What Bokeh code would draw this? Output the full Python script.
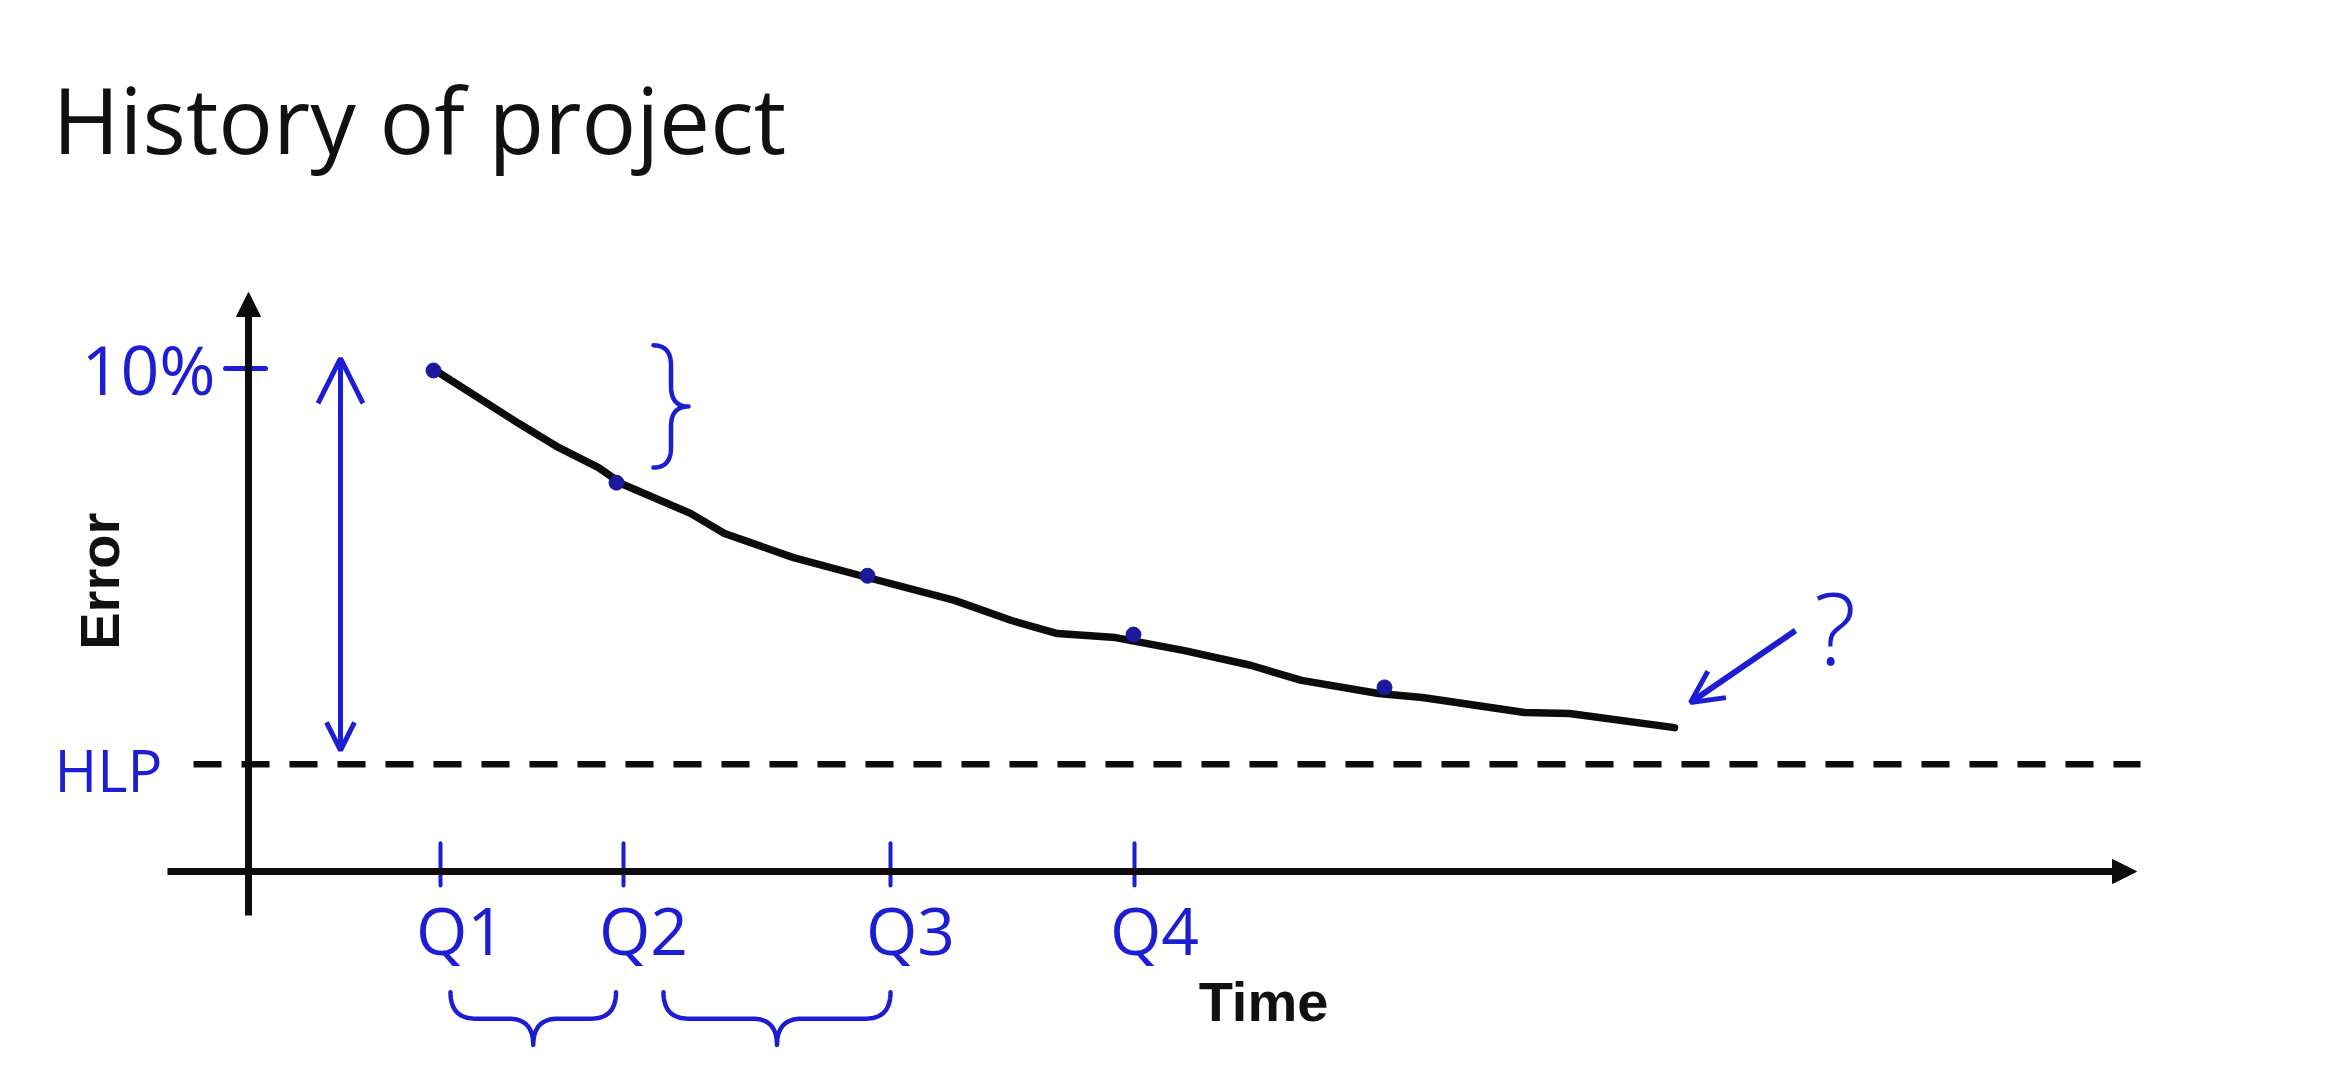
import numpy as np
from bokeh.plotting import figure
from bokeh.models import Range1d, Arrow, NormalHead, OpenHead
from bokeh.core.properties import value
from bokeh.embed import file_html
from bokeh.resources import INLINE

# ---------------- data ----------------
title_text = "History of project"
x_label = "Time"
y_label = "Error"
quarters = ["Q1", "Q2", "Q3", "Q4"]
quarter_time = [3.84, 7.50, 12.84, 17.72]
checkpoint_time = [3.70, 7.36, 12.38, 17.70, 22.72]
checkpoint_error = [9.96, 7.73, 5.88, 4.71, 3.66]
curve_time = [3.74, 5.40, 6.20, 7.00, 7.46, 8.84, 9.52, 10.90, 12.40, 14.12,
              15.26, 16.18, 17.34, 18.72, 20.04, 21.06, 22.60, 23.48, 25.52,
              26.42, 28.52]
curve_error = [9.96, 8.91, 8.43, 8.03, 7.71, 7.12, 6.72, 6.24, 5.84, 5.39,
               4.99, 4.73, 4.65, 4.39, 4.10, 3.80, 3.54, 3.46, 3.16, 3.14,
               2.86]
top_error = 10.0
top_label = "10%"
hlp_error = 2.13
hlp_label = "HLP"
question = "?"

# ---------------- layout ----------------
W, H = 2310, 1069
ORIGIN_X, ORIGIN_Y = 248, 871      # canvas px where the axes cross
PX_X, PX_Y = 50.0, 50.3            # px per data unit
BLUE = "#1d1dd4"
DOT = "#1a1a9a"
INK = "#0c0c0c"

p = figure(width=W, height=H, output_backend="svg", toolbar_location=None,
           x_range=Range1d(-ORIGIN_X / PX_X, (W - ORIGIN_X) / PX_X),
           y_range=Range1d(-(H - ORIGIN_Y) / PX_Y, ORIGIN_Y / PX_Y),
           x_axis_type=None, y_axis_type=None, min_border=0)
p.grid.visible = False
p.outline_line_color = None
p.background_fill_color = "white"
p.border_fill_color = "white"

# axes drawn as arrows
X_AX = (-1.62, 37.76)
Y_AX = (-0.875, 11.51)
p.add_layout(Arrow(x_start=X_AX[0], y_start=0, x_end=X_AX[1], y_end=0,
                   line_width=7, line_color=INK,
                   end=NormalHead(size=24, fill_color=INK, line_color=INK, line_width=1)))
p.add_layout(Arrow(x_start=0, y_start=Y_AX[0], x_end=0, y_end=Y_AX[1],
                   line_width=7, line_color=INK,
                   end=NormalHead(size=24, fill_color=INK, line_color=INK, line_width=1)))

# human-level performance dashed line
p.line(x=[-1.1, 37.84], y=[hlp_error, hlp_error], line_width=6.5, line_color=INK,
       line_dash="28 20")

# learning curve
p.line(x=curve_time, y=curve_error, line_width=7.5, line_color=INK,
       line_join="round", line_cap="round")
p.scatter(x=checkpoint_time, y=checkpoint_error, size=15, color=DOT)

# quarter ticks and the 10% tick (blue pen)
p.segment(x0=quarter_time, y0=[-0.28] * 4, x1=quarter_time, y1=[0.56] * 4,
          line_width=4, line_color=BLUE, line_cap="round")
p.segment(x0=[-0.46], y0=[top_error], x1=[0.34], y1=[top_error],
          line_width=5, line_color=BLUE, line_cap="round")


def quad(p0, c, p1, n=20):
    t = np.linspace(0, 1, n)
    return ((1 - t) ** 2)[:, None] * np.array(p0) + (2 * (1 - t) * t)[:, None] * np.array(c) \
        + (t ** 2)[:, None] * np.array(p1)


def brace(a, b, base, depth, q):
    """curly brace along [a, b], ends at `base`, point at base+depth; returns (along, perp)."""
    q = q if b > a else -q
    m = (a + b) / 2
    h = base + depth / 2
    pts = [quad((a, base), (a, h), (a + q, h)),
           np.array([(a + q, h), (m - q, h)]),
           quad((m - q, h), (m, h), (m, base + depth)),
           quad((m, base + depth), (m, h), (m + q, h)),
           np.array([(m + q, h), (b - q, h)]),
           quad((b - q, h), (b, h), (b, base))]
    arr = np.vstack(pts)
    return arr[:, 0], arr[:, 1]


# braces under Q1-Q2 and Q2-Q3
for qa, qb in [(quarter_time[0] + 0.2, quarter_time[1] - 0.15),
               (quarter_time[1] + 0.8, quarter_time[2])]:
    bx, by = brace(qa, qb, -2.4, -1.05, 0.5)
    p.line(bx, by, line_width=4.5, line_color=BLUE, line_join="round", line_cap="round")

# vertical brace next to the first improvement
by_, bx_ = brace(checkpoint_error[0] + 0.5, checkpoint_error[1] + 0.3, 8.1, 0.7, 0.4)
p.line(bx_, by_, line_width=4.5, line_color=BLUE, line_join="round", line_cap="round")

# double-headed arrow between HLP and 10%
p.add_layout(Arrow(x_start=1.84, y_start=hlp_error + 0.28, x_end=1.84, y_end=top_error + 0.2,
                   line_width=5, line_color=BLUE,
                   start=OpenHead(size=28, line_width=5, line_color=BLUE),
                   end=OpenHead(size=45, line_width=5, line_color=BLUE)))

# "?" arrow pointing to end of the curve
p.add_layout(Arrow(x_start=30.94, y_start=4.79, x_end=28.84, y_end=3.36,
                   line_width=6, line_color=BLUE,
                   end=OpenHead(size=32, line_width=5, line_color=BLUE)))

# texts
p.text(x=[-3.92], y=[(ORIGIN_Y - 118) / PX_Y], text=[title_text], text_font=value("Open Sans"),
       text_font_size="91px", text_color="#111111", text_align="left",
       text_baseline="middle")
p.text(x=[-2.98], y=[5.77], text=[y_label], angle=np.pi / 2,
       text_font=value("Liberation Sans"), text_font_style="bold",
       text_font_size="56px", text_color="#111111", text_align="center",
       text_baseline="middle")
p.text(x=[20.3], y=[-2.58], text=[x_label], text_font=value("Liberation Sans"),
       text_font_style="bold", text_font_size="56px", text_color="#111111",
       text_align="center", text_baseline="middle")
p.text(x=[-2.0], y=[top_error], text=[top_label], text_font=value("Open Sans"),
       text_font_size="68px", text_color=BLUE, text_align="center",
       text_baseline="middle")
p.text(x=[-2.8], y=[hlp_error - 0.1], text=[hlp_label], text_font=value("Open Sans"),
       text_font_size="58px", text_color=BLUE, text_align="center",
       text_baseline="middle")
p.text(x=quarter_time, y=[-1.15] * 4, text=quarters, text_font=value("Open Sans"),
       text_font_size="66px", text_color=BLUE, text_align="center",
       text_baseline="middle", x_offset=20)
p.text(x=[31.74], y=[4.89], text=[question], text_font=value("Open Sans"),
       text_font_size="100px", text_color=BLUE, text_align="center",
       text_baseline="middle")

open("out.html", "w").write(file_html(p, INLINE))
